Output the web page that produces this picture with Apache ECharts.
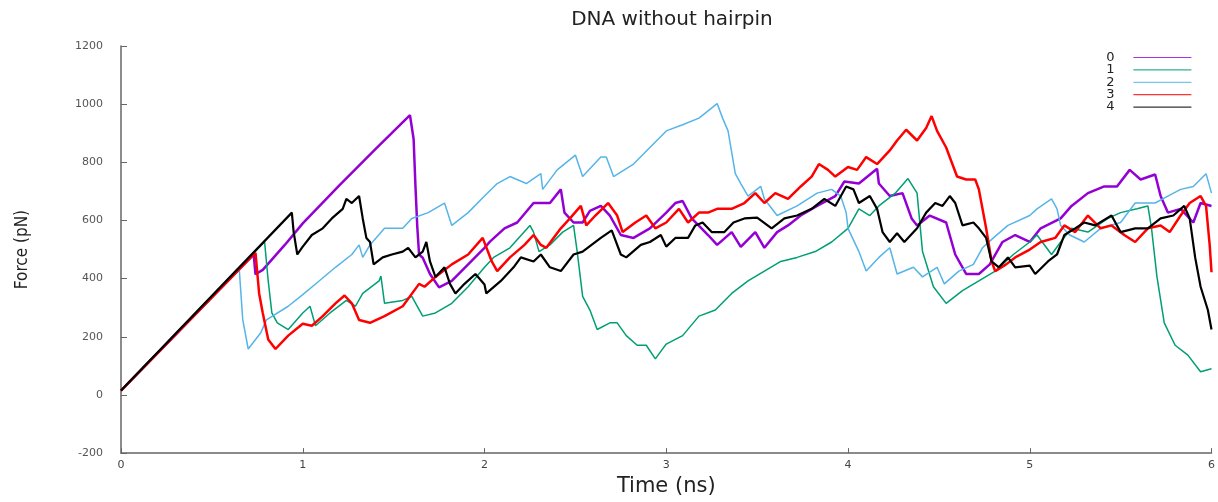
<!DOCTYPE html>
<html>
<head>
<meta charset="utf-8">
<script src="https://cdn.jsdelivr.net/npm/echarts/dist/echarts.min.js"></script>
<style>
  html, body { margin: 0; padding: 0; background: #fff; }
  #main { width: 1218px; height: 502px; }
</style>
</head>
<body>
<div id="main"></div>
<script>
// [time (ns), force (pN)]
const run0 = [[0,15],[0.73,483],[0.74,415],[0.78,430],[0.9,515],[1.0,590],[1.2,720],[1.4,845],[1.59,962],[1.61,880],[1.62,720],[1.63,580],[1.64,483],[1.66,472],[1.70,416],[1.75,370],[1.82,392],[1.91,449],[2.0,506],[2.03,527],[2.11,573],[2.18,593],[2.27,660],[2.36,660],[2.42,707],[2.44,627],[2.49,593],[2.54,593],[2.58,633],[2.64,650],[2.69,617],[2.75,550],[2.82,540],[2.91,573],[3.0,627],[3.05,660],[3.09,667],[3.14,607],[3.23,550],[3.28,516],[3.36,560],[3.41,509],[3.49,560],[3.54,506],[3.61,560],[3.67,583],[3.74,617],[3.83,650],[3.93,684],[3.98,734],[4.06,727],[4.16,778],[4.17,727],[4.23,684],[4.30,694],[4.35,607],[4.38,583],[4.45,617],[4.54,593],[4.59,483],[4.65,416],[4.72,416],[4.78,449],[4.85,526],[4.92,550],[5.0,526],[5.06,573],[5.17,607],[5.23,650],[5.32,694],[5.41,717],[5.48,717],[5.55,774],[5.61,741],[5.69,758],[5.72,684],[5.76,627],[5.83,640],[5.90,593],[5.94,660],[6.0,650]];
const run1 = [[0,15],[0.79,527],[0.81,392],[0.83,282],[0.86,248],[0.92,225],[1.0,282],[1.04,305],[1.07,238],[1.15,282],[1.24,325],[1.29,305],[1.33,349],[1.42,392],[1.43,409],[1.45,315],[1.55,325],[1.60,339],[1.66,271],[1.73,282],[1.82,315],[1.91,372],[2.0,439],[2.05,473],[2.14,506],[2.25,583],[2.27,560],[2.30,493],[2.36,516],[2.43,560],[2.49,583],[2.51,493],[2.54,339],[2.58,292],[2.62,225],[2.69,248],[2.73,248],[2.78,204],[2.84,171],[2.89,171],[2.94,124],[2.97,150],[3.0,175],[3.09,204],[3.18,271],[3.27,292],[3.36,349],[3.45,392],[3.54,426],[3.63,459],[3.72,473],[3.82,493],[3.91,526],[4.0,573],[4.06,640],[4.12,617],[4.17,650],[4.26,694],[4.33,744],[4.38,694],[4.41,493],[4.47,372],[4.54,315],[4.63,359],[4.72,392],[4.81,426],[4.91,483],[5.0,526],[5.04,550],[5.12,483],[5.17,526],[5.23,573],[5.32,560],[5.43,607],[5.50,627],[5.59,640],[5.65,650],[5.67,573],[5.70,406],[5.74,248],[5.80,171],[5.87,137],[5.94,80],[6.0,90]];
const run2 = [[0,15],[0.65,438],[0.67,258],[0.70,158],[0.77,215],[0.80,258],[0.92,305],[1.0,345],[1.09,392],[1.18,439],[1.27,483],[1.31,516],[1.33,473],[1.37,516],[1.45,573],[1.55,573],[1.60,607],[1.69,627],[1.78,660],[1.82,583],[1.91,627],[2.0,684],[2.07,727],[2.14,751],[2.23,727],[2.31,761],[2.32,707],[2.40,774],[2.50,825],[2.54,751],[2.64,818],[2.67,818],[2.71,751],[2.82,794],[2.91,851],[3.0,908],[3.09,929],[3.18,952],[3.28,1002],[3.31,952],[3.34,908],[3.38,761],[3.41,727],[3.45,684],[3.52,717],[3.54,674],[3.61,617],[3.72,650],[3.83,694],[3.91,707],[3.96,684],[3.99,627],[4.0,573],[4.06,493],[4.10,426],[4.17,473],[4.23,506],[4.27,416],[4.36,439],[4.41,406],[4.49,439],[4.53,382],[4.61,426],[4.69,449],[4.74,506],[4.80,540],[4.88,583],[5.0,617],[5.04,640],[5.12,674],[5.15,640],[5.17,583],[5.22,550],[5.30,526],[5.39,573],[5.50,593],[5.58,660],[5.69,660],[5.76,684],[5.83,707],[5.90,717],[5.97,761],[6.0,694]];
const run3 = [[0,15],[0.74,489],[0.76,349],[0.78,282],[0.81,191],[0.85,158],[0.92,204],[1.0,245],[1.05,238],[1.11,271],[1.18,315],[1.23,342],[1.27,315],[1.31,258],[1.37,248],[1.45,271],[1.55,305],[1.64,382],[1.67,372],[1.73,406],[1.82,449],[1.91,483],[1.99,540],[2.04,459],[2.07,426],[2.14,473],[2.22,516],[2.27,550],[2.31,516],[2.34,506],[2.42,573],[2.47,607],[2.53,650],[2.56,583],[2.61,617],[2.68,660],[2.73,617],[2.76,560],[2.83,593],[2.89,617],[2.94,573],[3.0,593],[3.07,640],[3.12,593],[3.18,627],[3.23,627],[3.28,640],[3.36,640],[3.43,660],[3.49,694],[3.54,660],[3.60,694],[3.67,674],[3.74,717],[3.80,751],[3.84,794],[3.89,774],[3.93,751],[4.0,784],[4.05,774],[4.10,818],[4.16,794],[4.23,841],[4.27,875],[4.32,912],[4.38,875],[4.43,918],[4.46,959],[4.49,908],[4.54,851],[4.60,751],[4.65,741],[4.70,741],[4.72,707],[4.76,573],[4.79,459],[4.81,426],[4.87,449],[4.92,473],[5.0,500],[5.06,526],[5.14,540],[5.19,583],[5.25,560],[5.32,617],[5.39,573],[5.45,583],[5.52,550],[5.58,526],[5.65,573],[5.72,583],[5.77,560],[5.83,617],[5.88,660],[5.94,684],[5.97,650],[5.99,516],[6.0,422]];
const run4 = [[0,15],[0.94,627],[0.95,560],[0.97,483],[1.0,510],[1.05,550],[1.11,573],[1.16,607],[1.22,640],[1.24,674],[1.27,660],[1.31,684],[1.33,607],[1.35,540],[1.37,526],[1.39,449],[1.44,473],[1.49,483],[1.55,493],[1.58,506],[1.62,473],[1.66,493],[1.68,526],[1.70,459],[1.73,406],[1.78,439],[1.81,382],[1.84,349],[1.89,382],[1.95,416],[2.0,380],[2.01,349],[2.09,392],[2.16,439],[2.20,473],[2.27,459],[2.31,483],[2.36,439],[2.42,426],[2.49,483],[2.54,493],[2.64,540],[2.70,566],[2.75,483],[2.78,473],[2.86,516],[2.91,526],[2.97,550],[3.0,510],[3.05,540],[3.12,540],[3.16,583],[3.20,593],[3.25,560],[3.32,560],[3.37,593],[3.43,607],[3.50,610],[3.58,573],[3.65,607],[3.72,617],[3.80,640],[3.87,674],[3.93,650],[3.99,717],[4.03,707],[4.06,660],[4.12,684],[4.16,640],[4.19,560],[4.23,526],[4.27,556],[4.31,526],[4.38,573],[4.43,627],[4.48,660],[4.52,650],[4.56,684],[4.59,660],[4.63,583],[4.69,593],[4.72,573],[4.76,540],[4.79,459],[4.83,439],[4.88,473],[4.92,439],[5.0,445],[5.03,416],[5.10,459],[5.15,483],[5.19,550],[5.25,573],[5.30,593],[5.36,583],[5.45,617],[5.50,560],[5.58,573],[5.65,573],[5.72,607],[5.79,617],[5.85,650],[5.88,607],[5.91,473],[5.94,372],[5.98,292],[6.0,225]];

const runNames = ["0", "1", "2", "3", "4"];
const runData = [run0, run1, run2, run3, run4];
const runColors = ["#9400d3", "#009e73", "#56b4e9", "#ff0000", "#000000"];
const runWidths = [2.5, 1.5, 1.5, 2.5, 2.2];

const chart = echarts.init(document.getElementById("main"));

const axisGray = "#666";

const option = {
	animation: false,
	backgroundColor: "#fff",
	title: {
		text: "DNA without hairpin",
		left: 667,
		top: 5,
		textAlign: "center",
		textStyle: {
			fontFamily: "DejaVu Sans",
			fontSize: 20,
			fontWeight: "normal",
			color: "#222",
		},
	},
	legend: {
		orient: "vertical",
		right: 26,
		top: 51,
		padding: 0,
		align: "right",
		itemWidth: 58,
		itemHeight: 12,
		itemGap: -0.6,
		// legend line keeps the run colour; the round marker is hidden
		data: runNames.map((name, i) => ({
			name: name,
			itemStyle: { color: "rgba(0,0,0,0)", borderWidth: 0, opacity: 0 },
			lineStyle: { color: runColors[i], width: 1.2, opacity: 0.8 },
		})),
		textStyle: {
			fontFamily: "DejaVu Sans",
			fontSize: 13,
			lineHeight: 12,
			color: "#222",
			padding: [0, 14, 0, 0],
		},
	},
	grid: {
		left: 121,
		right: 2,
		top: 46,
		bottom: 38,
		containLabel: false,
	},
	xAxis: {
		type: "value",
		min: 0,
		max: 6,
		interval: 1,
		name: "Time (ns)",
		nameLocation: "middle",
		nameGap: 20,
		nameTextStyle: {
			fontFamily: "DejaVu Sans",
			fontSize: 21,
			color: "#222",
		},
		axisLine: { show: true, onZero: false, lineStyle: { color: axisGray, width: 1.5 } },
		axisTick: { show: true, inside: true, length: 5, lineStyle: { color: axisGray } },
		axisLabel: { fontFamily: "DejaVu Sans", fontSize: 11, color: "#444", margin: 7 },
		splitLine: { show: false },
	},
	yAxis: {
		type: "value",
		min: -200,
		max: 1200,
		interval: 200,
		name: "Force (pN)",
		nameLocation: "middle",
		nameGap: 90,
		nameTextStyle: {
			fontFamily: "Liberation Sans Narrow, DejaVu Sans Condensed, sans-serif",
			fontSize: 17,
			color: "#222",
		},
		axisLine: { show: true, onZero: false, lineStyle: { color: axisGray, width: 1.5 } },
		axisTick: { show: true, inside: true, length: 6, lineStyle: { color: axisGray } },
		axisLabel: {
			fontFamily: "DejaVu Sans",
			fontSize: 11,
			color: "#555",
			margin: 18,
			formatter: (v) => String(v),
		},
		splitLine: { show: false },
	},
	series: runNames.map((name, i) => ({
		name: name,
		type: "line",
		data: runData[i],
		symbol: "none",
		color: runColors[i],
		lineStyle: { color: runColors[i], width: runWidths[i] },
	})),
};

chart.setOption(option);
</script>
</body>
</html>
